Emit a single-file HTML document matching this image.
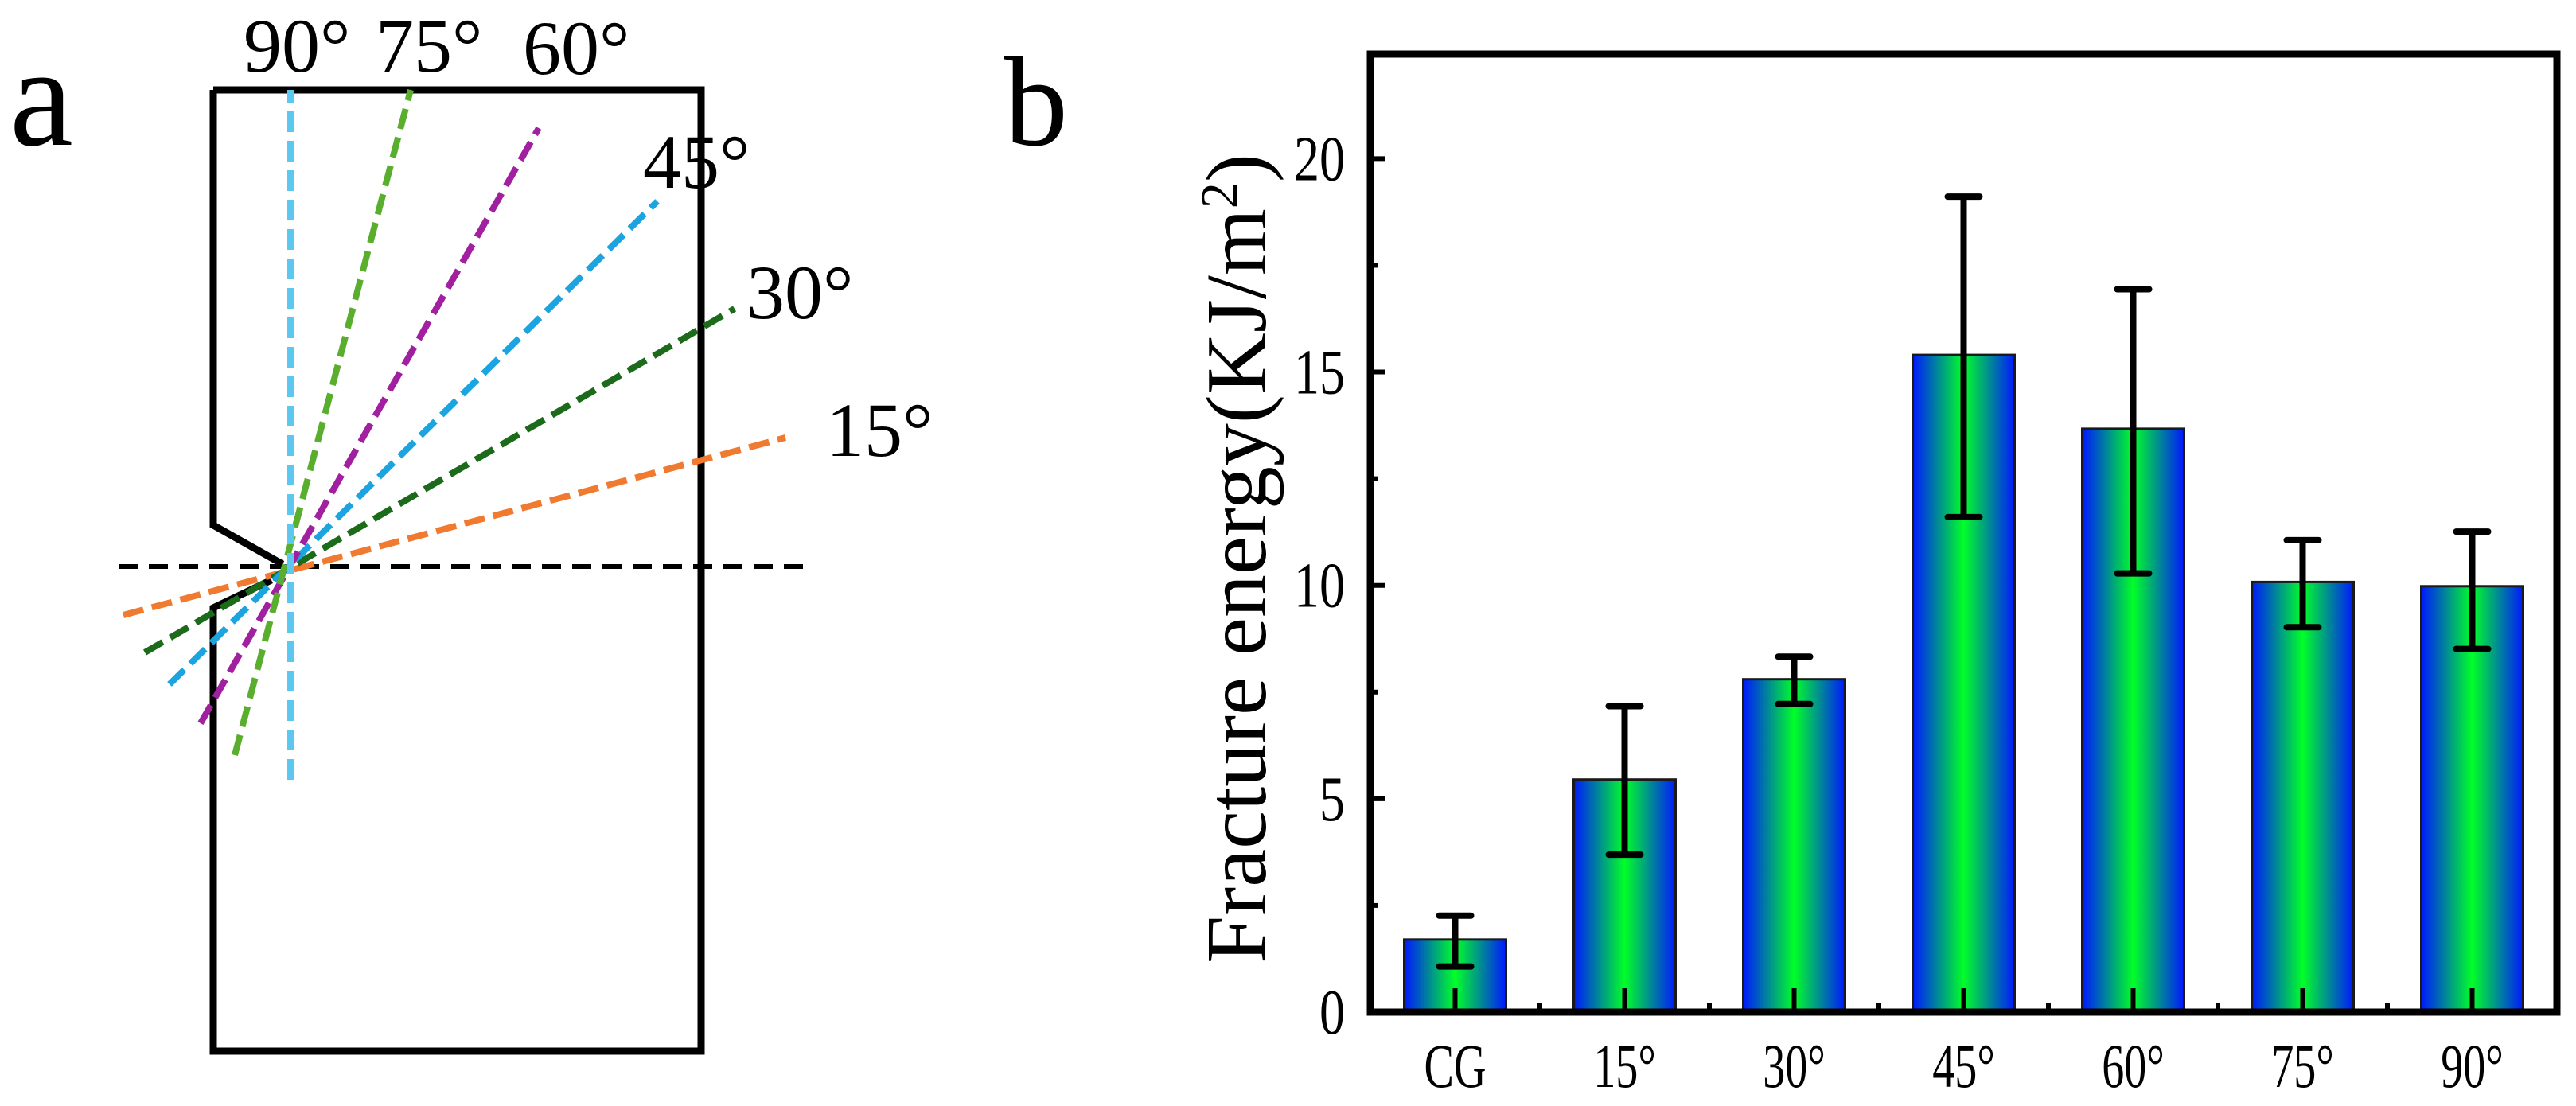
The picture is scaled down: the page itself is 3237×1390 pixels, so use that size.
<!DOCTYPE html>
<html><head><meta charset="utf-8"><style>
html,body{margin:0;padding:0;background:#fff;}
svg{display:block;}
text{font-family:"Liberation Serif","Noto Serif CJK SC",serif;fill:#000;}
</style></head><body>
<svg id="fig" width="3237" height="1390" viewBox="0 0 3237 1390">
<defs>
<linearGradient id="barGrad" x1="0" x2="1" y1="0" y2="0">
<stop offset="0" stop-color="#0018ff"/><stop offset="0.5" stop-color="#00ff28"/><stop offset="1" stop-color="#0018ff"/>
</linearGradient>
</defs>
<g>
<text x="12" y="182" font-size="180">a</text>
<path d="M268,113 L881,113 L881,1321 L268,1321 L268,764 L341,729 M268,113 L268,660 L355,709" fill="none" stroke="#000" stroke-width="9"/>
<line x1="149" y1="712" x2="1018" y2="712" stroke="#000" stroke-width="6" stroke-dasharray="24,14"/>
<line x1="155" y1="773" x2="987" y2="550" stroke="#f07a30" stroke-width="8" stroke-dasharray="26,11"/>
<line x1="182" y1="820" x2="923" y2="388" stroke="#1b6b1b" stroke-width="8" stroke-dasharray="26,11"/>
<line x1="213" y1="860" x2="826" y2="253" stroke="#1ba4e0" stroke-width="8" stroke-dasharray="26,11"/>
<line x1="252" y1="909" x2="677" y2="161" stroke="#a020a0" stroke-width="8" stroke-dasharray="26,11"/>
<line x1="295" y1="949" x2="516" y2="113" stroke="#5aae2e" stroke-width="8" stroke-dasharray="26,11"/>
<line x1="365" y1="980" x2="365" y2="113" stroke="#5cc8f0" stroke-width="8" stroke-dasharray="26,11"/>
<g font-size="96">
<text x="306" y="90">90°</text>
<text x="472" y="90">75°</text>
<text x="657" y="93">60°</text>
<text x="808" y="236">45°</text>
<text x="938" y="400">30°</text>
<text x="1038" y="573">15°</text>
</g>
</g>
<g id="panelB">
<text x="1262" y="182" font-size="160">b</text>
</g>
</svg>
<script>
const categories = ["CG","15°","30°","45°","60°","75°","90°"];
const values = [1.70, 5.45, 7.80, 15.40, 13.67, 10.08, 9.98];
const errLow = [1.07, 3.69, 7.22, 11.60, 10.28, 9.02, 8.51];
const errHigh = [2.26, 7.17, 8.33, 19.11, 16.94, 11.06, 11.26];
const yTicks = [0,5,10,15,20];
const yTickLabels = ["0","5","10","15","20"];

const NS = "http://www.w3.org/2000/svg";
const g = document.getElementById('panelB');
const L = 1722, R = 3213, T = 68, B = 1272, YMAX = 22.45;
const bandW = (R - L) / categories.length;
function xScale(i){ return L + bandW * (i + 0.5); }
function yScale(v){ return B - (B - T) * v / YMAX; }
function mk(tag, attrs){ const e = document.createElementNS(NS, tag); for (const k in attrs) e.setAttribute(k, attrs[k]); g.appendChild(e); return e; }

const barW = 128;
categories.forEach((c, i) => {
  const cx = xScale(i);
  const r = mk('rect', {x: cx - barW/2, y: yScale(values[i]), width: barW, height: B - yScale(values[i]), fill: 'url(#barGrad)', stroke: '#1a1a1a', 'stroke-width': 3});
  
  
});
categories.forEach((c, i) => {
  const cx = xScale(i);
  const e = mk('path', {d: `M${cx},${yScale(errLow[i])}V${yScale(errHigh[i])}M${cx-20},${yScale(errLow[i])}h40M${cx-20},${yScale(errHigh[i])}h40`, stroke: '#000', 'stroke-width': 8, fill: 'none', 'stroke-linecap': 'round'});
  
  
  const tk = mk('line', {x1: cx, x2: cx, y1: B, y2: B - 30, stroke: '#000', 'stroke-width': 6});
  
  
  if (i > 0) {
    const mt = mk('line', {x1: L + bandW * i, x2: L + bandW * i, y1: B, y2: B - 12, stroke: '#000', 'stroke-width': 6});
    
    
  }
  const t = mk('text', {x: 0, y: 0, 'font-size': 78, 'text-anchor': 'middle', transform: `translate(${cx},1366) scale(0.72,1)`});
  t.textContent = c;
  
  
});
yTicks.forEach((v, i) => {
  const y = yScale(v);
  const tk = mk('line', {x1: L, x2: L + 18, y1: y, y2: y, stroke: '#000', 'stroke-width': 6});
  
  
  const ym = yScale(v + 2.5);
  if (v + 2.5 < YMAX) {
    const mt = mk('line', {x1: L, x2: L + 10, y1: ym, y2: ym, stroke: '#000', 'stroke-width': 6});
    
    
  }
  const t = mk('text', {x: 0, y: 0, 'font-size': 80, 'text-anchor': 'end', transform: `translate(1690,${y + 27}) scale(0.8,1)`});
  t.textContent = yTickLabels[i];
  
  
});
const frame = mk('rect', {x: L, y: T, width: R - L, height: B - T, fill: 'none', stroke: '#000', 'stroke-width': 9});


const yl = mk('text', {x: 0, y: 0, 'font-size': 108, 'text-anchor': 'middle', transform: 'translate(1590,702) rotate(-90)'});
yl.innerHTML = 'Fracture energy(KJ/m<tspan baseline-shift="super" font-size="66">2</tspan>)';


</script>
</body></html>
